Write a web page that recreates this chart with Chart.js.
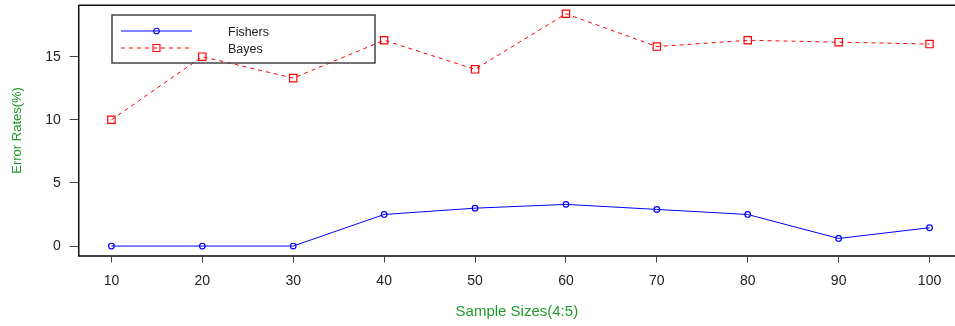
<!DOCTYPE html>
<html>
<head>
<meta charset="utf-8">
<script src="https://cdn.jsdelivr.net/npm/chart.js@4/dist/chart.umd.min.js"></script>
<style>
  body { margin: 0; background: #fff; }
  canvas { display: block; }
</style>
</head>
<body>
<canvas id="myChart" width="955" height="326"></canvas>
<script>
// data
const sampleSizes = [10, 20, 30, 40, 50, 60, 70, 80, 90, 100];
const fishers = [0, 0, 0, 2.5, 3.0, 3.3, 2.9, 2.5, 0.6, 1.45];
const bayes = [10.0, 15.0, 13.3, 16.3, 14.0, 18.4, 15.8, 16.3, 16.15, 16.0];
const yTicks = [0, 5, 10, 15];

const green = "#1f9a2a";
const blue = "#0000ff";
const red = "#ff0000";
const font = "'Liberation Sans', Arial, sans-serif";

function toPoints(values) {
  return sampleSizes.map((s, i) => ({ x: s, y: values[i] }));
}

// top line of the R box (right side runs off the canvas)
const framePlugin = {
  id: "frame",
  afterDraw(chart) {
    const { ctx, chartArea } = chart;
    ctx.save();
    ctx.strokeStyle = "#111";
    ctx.lineWidth = 1.5;
    ctx.beginPath();
    ctx.moveTo(chartArea.left, chartArea.top);
    ctx.lineTo(chartArea.right, chartArea.top);
    ctx.stroke();
    ctx.restore();
  },
};

// R style legend box, line sample with the marker in the middle
const legendItems = [
  { label: "Fishers", color: blue, dash: [], marker: "circle" },
  { label: "Bayes", color: red, dash: [4, 4], marker: "rect" },
];
const rLegend = {
  id: "rLegend",
  afterDraw(chart) {
    const { ctx } = chart;
    ctx.save();
    ctx.strokeStyle = "#444";
    ctx.lineWidth = 1.5;
    ctx.strokeRect(112, 15, 263, 48);

    legendItems.forEach((item, i) => {
      const y = 31 + i * 16.5;
      const ly = Math.round(y);
      ctx.strokeStyle = item.color;
      ctx.lineWidth = 1.1;
      ctx.setLineDash(item.dash);
      ctx.beginPath();
      ctx.moveTo(121, ly);
      ctx.lineTo(192, ly);
      ctx.stroke();
      ctx.setLineDash([]);
      ctx.beginPath();
      if (item.marker === "rect") {
        ctx.rect(153, ly - 3.5, 7, 7);
      } else {
        ctx.arc(156.5, ly, 2.8, 0, Math.PI * 2);
      }
      ctx.stroke();

      ctx.fillStyle = "#222";
      ctx.font = "12.5px " + font;
      ctx.textBaseline = "middle";
      ctx.fillText(item.label, 228, y + 2);
    });
    ctx.restore();
  },
};

const ctx = document.getElementById("myChart");
const myChart = new Chart(ctx, {
  type: "line",
  data: {
    datasets: [
      {
        label: "Fishers",
        data: toPoints(fishers),
        borderColor: blue,
        borderWidth: 1,
        pointStyle: "circle",
        pointRadius: 2.8,
        pointBorderWidth: 1.2,
        pointBackgroundColor: "rgba(0,0,0,0)",
        pointBorderColor: blue,
        tension: 0,
      },
      {
        label: "Bayes",
        data: toPoints(bayes),
        borderColor: red,
        borderWidth: 1,
        borderDash: [4, 4],
        pointStyle: "rect",
        pointRadius: 5.2,
        pointBorderWidth: 1.2,
        pointBackgroundColor: "rgba(0,0,0,0)",
        pointBorderColor: red,
        tension: 0,
      },
    ],
  },
  options: {
    responsive: false,
    animation: false,
    layout: {
      autoPadding: false,
      padding: { top: 5.3, right: 0, bottom: 0, left: 0 },
    },
    plugins: {
      legend: { display: false },
      tooltip: { enabled: false },
    },
    scales: {
      x: {
        type: "linear",
        min: 6.4,
        max: 102.8,
        afterBuildTicks: (scale) => {
          scale.ticks = sampleSizes.map((v) => ({ value: v }));
        },
        afterFit: (scale) => {
          scale.height = 70.5;
          scale.paddingLeft = 0;
          scale.paddingRight = 0;
        },
        grid: {
          drawOnChartArea: false,
          drawTicks: true,
          tickLength: 7,
          color: "#444",
        },
        border: { display: true, color: "#444", width: 2 },
        ticks: {
          autoSkip: false,
          maxRotation: 0,
          padding: 10,
          color: "#222",
          font: { size: 14, family: font },
        },
        title: {
          display: true,
          text: "Sample Sizes(4:5)",
          color: green,
          font: { size: 15, family: font },
          padding: { top: 0, bottom: 5 },
        },
      },
      y: {
        type: "linear",
        min: -0.75,
        max: 19.07,
        afterBuildTicks: (scale) => {
          scale.ticks = yTicks.map((v) => ({ value: v }));
        },
        afterFit: (scale) => {
          scale.width = 78.7;
          scale.paddingTop = 0;
          scale.paddingBottom = 0;
        },
        grid: {
          drawOnChartArea: false,
          drawTicks: true,
          tickLength: 9,
          color: "#444",
        },
        border: { display: true, color: "#111", width: 1.5 },
        ticks: {
          padding: 9,
          color: "#222",
          font: { size: 14, family: font },
        },
        title: {
          display: true,
          text: "Error Rates(%)",
          color: green,
          font: { size: 13, family: font },
          padding: { top: 10, bottom: 0 },
        },
      },
    },
  },
  plugins: [framePlugin, rLegend],
});
</script>
</body>
</html>
